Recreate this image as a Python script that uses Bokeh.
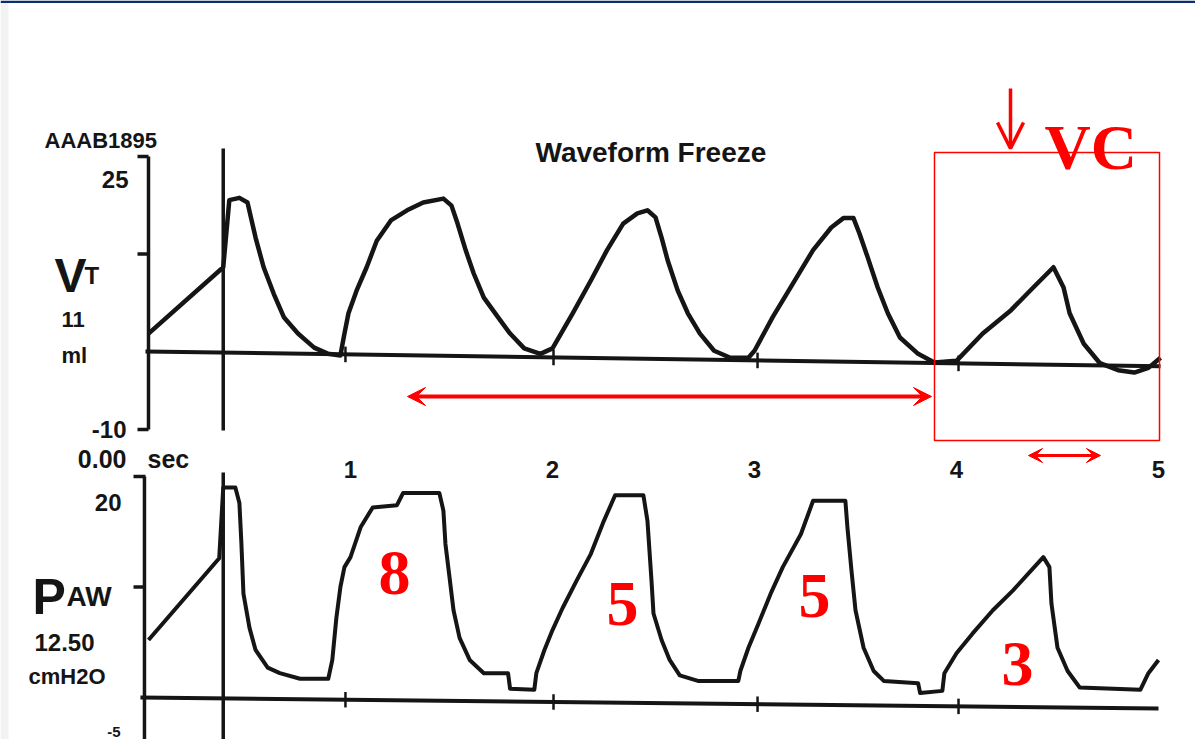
import numpy as np
from bokeh.plotting import figure
from bokeh.models import Range1d, Arrow, VeeHead, OpenHead
from bokeh.core.properties import value
from bokeh.embed import file_html
from bokeh.resources import INLINE

# ---------------- data ----------------
vt_time = [0.00, 0.37, 0.40, 0.45, 0.49, 0.53, 0.57, 0.62, 0.67, 0.74, 0.82, 0.89, 0.95,
           0.97, 0.99, 1.03, 1.08, 1.13, 1.20, 1.28, 1.36, 1.46, 1.50, 1.53, 1.57, 1.61,
           1.66, 1.73, 1.79, 1.86, 1.94, 2.00, 2.10, 2.19, 2.27, 2.35, 2.42, 2.47, 2.51,
           2.54, 2.57, 2.62, 2.67, 2.73, 2.80, 2.88, 2.97, 3.00, 3.09, 3.19, 3.29, 3.38,
           3.44, 3.49, 3.52, 3.56, 3.61, 3.66, 3.72, 3.81, 3.89, 4.00, 4.13, 4.27, 4.38,
           4.48, 4.53, 4.56, 4.63, 4.71, 4.80, 4.88, 4.95, 5.01]
vt_value = [2.3, 10.8, 19.4, 19.7, 19.1, 14.6, 10.8, 7.4, 4.4, 2.3, 0.5, -0.3, -0.5,
            2.3, 4.9, 7.8, 10.8, 14.2, 16.8, 18.1, 19.1, 19.6, 18.7, 16.4, 13.0, 10.0,
            6.9, 4.4, 2.3, 0.4, -0.3, 0.4, 4.9, 9.1, 13.0, 16.4, 17.7, 18.1, 17.2,
            14.6, 11.7, 7.8, 4.9, 2.3, 0.1, -0.8, -0.8, 0.1, 4.4, 8.7, 13.0, 15.9,
            17.1, 17.1, 15.1, 12.1, 8.2, 4.9, 1.8, -0.3, -1.4, -1.2, 2.3, 5.3, 8.2,
            10.8, 8.2, 4.9, 1.0, -1.5, -2.4, -2.7, -2.1, -0.8]

paw_time = [0.00, 0.35, 0.37, 0.43, 0.45, 0.46, 0.47, 0.50, 0.53, 0.59, 0.65, 0.75, 0.89,
            0.91, 0.93, 0.95, 0.97, 1.00, 1.05, 1.11, 1.23, 1.26, 1.44, 1.46, 1.47, 1.49,
            1.51, 1.54, 1.59, 1.66, 1.78, 1.79, 1.91, 1.92, 1.96, 2.00, 2.05, 2.12, 2.19,
            2.25, 2.31, 2.45, 2.47, 2.49, 2.50, 2.54, 2.58, 2.63, 2.72, 2.92, 2.93, 2.97,
            3.02, 3.08, 3.14, 3.23, 3.29, 3.45, 3.46, 3.48, 3.50, 3.54, 3.59, 3.64, 3.81,
            3.82, 3.93, 3.94, 4.00, 4.08, 4.18, 4.28, 4.37, 4.43, 4.46, 4.47, 4.50, 4.55,
            4.61, 4.91, 4.95, 5.00]
paw_value = [5.2, 12.6, 19.0, 19.0, 17.6, 13.9, 9.4, 6.3, 4.3, 2.7, 2.2, 1.7, 1.7,
             3.4, 7.2, 10.0, 11.8, 12.7, 15.4, 17.2, 17.4, 18.5, 18.5, 16.9, 13.9, 10.9,
             7.9, 5.4, 3.4, 2.2, 2.2, 0.8, 0.7, 2.2, 4.3, 6.1, 8.1, 10.6, 13.0,
             15.8, 18.3, 18.3, 16.0, 10.6, 7.6, 5.2, 3.4, 2.0, 1.5, 1.5, 2.4, 4.5,
             6.7, 9.4, 11.8, 14.8, 17.8, 17.8, 15.4, 11.5, 7.9, 4.5, 2.4, 1.5, 1.3,
             0.4, 0.6, 2.2, 4.0, 5.8, 7.9, 9.7, 11.5, 12.7, 11.8, 8.5, 4.5, 2.4,
             0.9, 0.7, 2.2, 3.4]

vt_baseline_time = [-0.015, 5.01]
vt_baseline_value = [0.0, -1.9]
paw_baseline_time = [-0.04, 5.0]
paw_baseline_value = [0.0, -1.0]
trigger_times = [0.975, 2.005, 3.015, 4.01]
cursor_time = 0.37
time_ticks = [1, 2, 3, 4, 5]
vt_ticks = [25, 12.5, -10]
paw_ticks = [20, 10, -5]
breath_labels = ["8", "5", "5", "3"]

# ---------------- layout ----------------
W, H = 1195, 739
T0, TS = 148.0, 202.0          # px of t=0, px per second
VT0, VTS = 351.0, 7.8          # px of VT=0, px per ml unit
PW0, PWS = 697.0, 11.05        # px of Paw=0, px per cmH2O

INK = "#151515"
RED = "#ff0000"
SANS = value("Liberation Sans")
SERIF = value("Liberation Serif")

p = figure(width=W, height=H, x_range=Range1d(0, W), y_range=Range1d(H, 0),
           x_axis_type=None, y_axis_type=None, toolbar_location=None,
           output_backend="svg", min_border=0, outline_line_color=None,
           background_fill_color="white", border_fill_color="white")
p.extra_x_ranges = {"t": Range1d(-T0 / TS, (W - T0) / TS)}
p.extra_y_ranges = {"vt": Range1d(-(H - VT0) / VTS, VT0 / VTS),
                    "paw": Range1d(-(H - PW0) / PWS, PW0 / PWS)}

# slide decoration
p.quad(left=0, right=W, top=0, bottom=2.5, fill_color="#0b2d6e", line_color=None)
p.quad(left=0, right=8, top=2.5, bottom=H, fill_color="#f2f2f2", line_color=None)

# ---- upper panel (VT) ----
p.line(vt_baseline_time, vt_baseline_value, x_range_name="t", y_range_name="vt",
       line_color=INK, line_width=4)
p.segment(x0=[0], x1=[0], y0=[max(vt_ticks)], y1=[min(vt_ticks)],
          x_range_name="t", y_range_name="vt", line_color=INK, line_width=3.5)
p.segment(x0=137, x1=148, y0=vt_ticks, y1=vt_ticks, y_range_name="vt",
          line_color=INK, line_width=3.5)
vb = np.interp(trigger_times, vt_baseline_time, vt_baseline_value)
p.segment(x0=trigger_times, x1=trigger_times, y0=vb - 1.0, y1=vb + 1.0,
          x_range_name="t", y_range_name="vt", line_color=INK, line_width=2.5)
p.line(vt_time, vt_value, x_range_name="t", y_range_name="vt",
       line_color=INK, line_width=4.5, line_join="round")

# ---- lower panel (Paw) ----
p.line(paw_baseline_time, paw_baseline_value, x_range_name="t", y_range_name="paw",
       line_color=INK, line_width=4)
p.segment(x0=[-0.02], x1=[-0.02], y0=[max(paw_ticks)], y1=[min(paw_ticks) - 2],
          x_range_name="t", y_range_name="paw", line_color=INK, line_width=3.5)
p.segment(x0=133, x1=145, y0=paw_ticks[:2], y1=paw_ticks[:2], y_range_name="paw",
          line_color=INK, line_width=3.5)
pb = np.interp(trigger_times, paw_baseline_time, paw_baseline_value)
p.segment(x0=trigger_times, x1=trigger_times, y0=pb - 0.7, y1=pb + 0.7,
          x_range_name="t", y_range_name="paw", line_color=INK, line_width=2.5)
p.line(paw_time, paw_value, x_range_name="t", y_range_name="paw",
       line_color=INK, line_width=4, line_join="round")

# cursor line through both panels
p.segment(x0=[cursor_time, cursor_time], x1=[cursor_time, cursor_time],
          y0=[148, 472], y1=[430, H], x_range_name="t",
          line_color=INK, line_width=3.5)

# ---- scanned texts ----
def txt(x, y, s, size, align="left", font=SANS, color=INK, **kw):
    p.text(x=x, y=y, text=s, text_font=font, text_font_style="bold",
           text_font_size=size, text_align=align, text_baseline="alphabetic",
           text_color=color, **kw)

txt([44], [140], ["AAAB1895"], "22px")
txt([535], [152], ["Waveform Freeze"], "28px")
txt([128], [179], [str(vt_ticks[0])], "24px", align="right")
txt([54], [275], ["V"], "48px")
txt([84], [275], ["T"], "24px")
txt([61], [319], ["11"], "22px")
txt([61], [355], ["ml"], "22px")
txt([126], [429], [str(vt_ticks[2])], "24px", align="right")
txt([126], [458], ["0.00"], "25px", align="right")
txt([147], [458], ["sec"], "25px")
txt(time_ticks, [469] * len(time_ticks), [str(t) for t in time_ticks], "24px",
    align="center", x_range_name="t")
txt([121], [502], [str(paw_ticks[0])], "24px", align="right")
txt([32], [596], ["P"], "50px")
txt([66], [596], ["AW"], "28px")
txt([34], [642], ["12.50"], "24px")
txt([28], [676], ["cmH2O"], "22px")
txt([120], [731], [str(paw_ticks[2])], "15px", align="right")

# ---- red annotations ----
txt([1044], [147], ["VC"], "64px", font=SERIF, color=RED)
txt([394, 622, 814, 1017], [572, 603, 595, 663], breath_labels, "64px",
    align="center", font=SERIF, color=RED)
p.quad(left=934, right=1159, top=152, bottom=440, fill_color=None,
       line_color=RED, line_width=1.5)
p.add_layout(Arrow(start=VeeHead(size=18, fill_color=RED, line_color=RED),
                   end=VeeHead(size=18, fill_color=RED, line_color=RED),
                   x_start=407, y_start=396, x_end=931, y_end=396,
                   line_color=RED, line_width=4))
p.add_layout(Arrow(start=VeeHead(size=14, fill_color=RED, line_color=RED),
                   end=VeeHead(size=14, fill_color=RED, line_color=RED),
                   x_start=1028, y_start=455, x_end=1100, y_end=455,
                   line_color=RED, line_width=3))
p.add_layout(Arrow(end=OpenHead(size=26, line_color=RED, line_width=3.5),
                   x_start=1010, y_start=88, x_end=1010, y_end=148,
                   line_color=RED, line_width=3.5))

open("out.html", "w").write(file_html(p, INLINE))
